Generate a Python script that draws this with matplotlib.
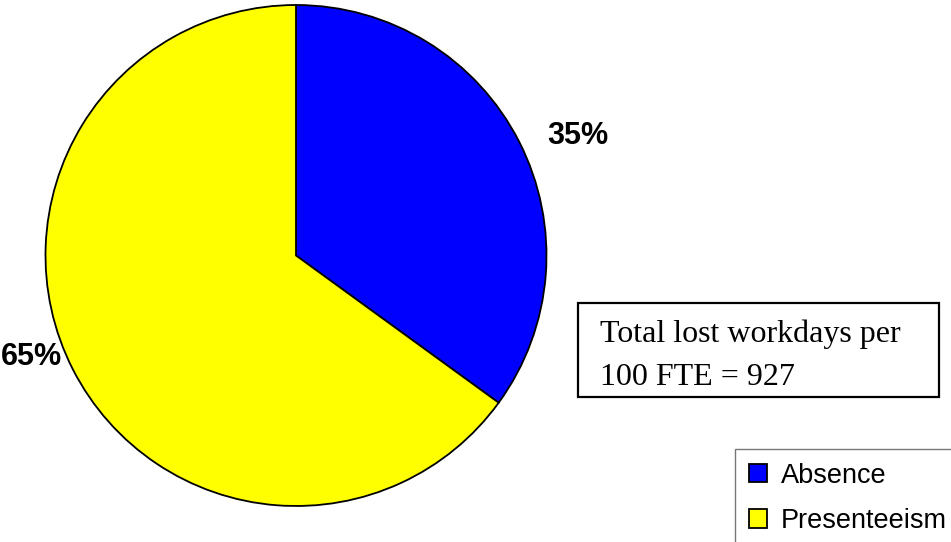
import numpy as np
import matplotlib.pyplot as plt
from matplotlib.patches import Rectangle

# Datos del gráfico
categories = ['Absence', 'Presenteeism']
shares = [35, 65]
colors = ['#0000FF', '#FFFF00']
note_lines = ['Total lost workdays per', '100 FTE = 927']

W, H = 951, 542
fig = plt.figure(figsize=(W / 100, H / 100), dpi=100)
ax = fig.add_axes([0, 0, 1, 1])

# Pastel (coordenadas en píxeles, y hacia arriba)
cx, cy, r = 296, H - 255.5, 250.5
wedges, _ = ax.pie(shares, colors=colors, startangle=90, counterclock=False,
                   center=(cx, cy), radius=r, frame=True,
                   wedgeprops=dict(edgecolor='black', linewidth=1.3))
ax.set_xlim(0, W)
ax.set_ylim(0, H)
ax.axis('off')

# Etiquetas de porcentaje fuera del pastel
label_dist = [1.222, 1.13]
angle_shift = [-4.1, -6.0]
for w, s, d, da in zip(wedges, shares, label_dist, angle_shift):
    ang = np.deg2rad((w.theta1 + w.theta2) / 2 + da)
    ax.text(cx + d * r * np.cos(ang), cy + d * r * np.sin(ang), f'{s}%',
            ha='center', va='center', fontsize=22, fontweight='bold',
            family='Liberation Sans')

# Cuadro de texto
ax.add_patch(Rectangle((578, H - 397), 361, 94, fill=False,
                       edgecolor='black', linewidth=1.6))
ax.text(600, H - 342, note_lines[0], fontsize=23, family='Liberation Serif',
        va='baseline')
ax.text(600, H - 385, note_lines[1], fontsize=23, family='Liberation Serif',
        va='baseline')

# Leyenda
leg = fig.legend(wedges, categories, loc='upper left',
                 bbox_to_anchor=(735 / W, 1 - 449 / H), borderaxespad=0,
                 prop={'family': 'Liberation Sans', 'size': 19.5},
                 frameon=True, fancybox=False, edgecolor='#555555',
                 handlelength=0.68, handleheight=0.68, handletextpad=0.5,
                 labelspacing=0.72, borderpad=0.5)
leg.get_frame().set_linewidth(1.0)

fig.savefig('out.png', dpi=100)
